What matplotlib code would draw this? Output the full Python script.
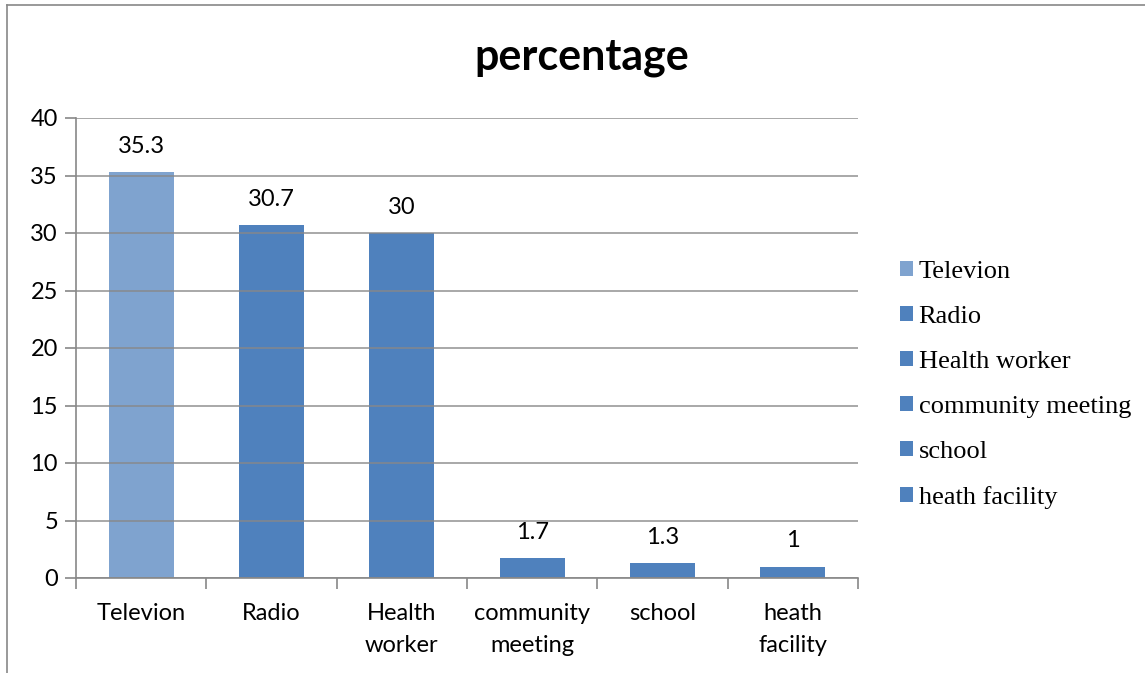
import matplotlib
matplotlib.use("Agg")
import matplotlib.pyplot as plt
from matplotlib.patches import Patch
from matplotlib.lines import Line2D

categories = ["Televion", "Radio", "Health worker", "community meeting", "school", "heath facility"]
tick_labels = ["Televion", "Radio", "Health\nworker", "community\nmeeting", "school", "heath\nfacility"]
values = [35.3, 30.7, 30, 1.7, 1.3, 1]
value_labels = ["35.3", "30.7", "30", "1.7", "1.3", "1"]
colors = ["#7FA3CF", "#4F81BD", "#4F81BD", "#4F81BD", "#4F81BD", "#4F81BD"]

fig = plt.figure(figsize=(11.45, 6.73), dpi=100)
ax = fig.add_axes([76/1145, 1-578/673, (858-76)/1145, (578-118)/673])

x = list(range(len(categories)))
bars = ax.bar(x, values, width=0.5, color=colors, zorder=2)
ax.set_xlim(-0.5, len(categories) - 0.5)
ax.set_ylim(0, 40)
ax.set_yticks(range(0, 41, 5))
ax.tick_params(axis='y', length=8, width=1.2, color="#888888", labelsize=17, pad=5, direction='out')
ax.set_xticks(x)
ax.set_xticklabels(tick_labels, fontsize=17, linespacing=1.65)
ax.tick_params(axis='x', length=0, pad=18)
# category boundary ticks
ax.set_xticks([i - 0.5 for i in range(len(categories) + 1)], minor=True)
ax.tick_params(axis='x', which='minor', length=8, width=1.2, color="#888888")
for lab in ax.get_yticklabels() + ax.get_xticklabels():
    lab.set_fontfamily("Lato")

ax.grid(axis='y', color="#888888", linewidth=1.2, alpha=0.85, zorder=3)
ax.set_axisbelow(False)
for s in ["top", "right"]:
    ax.spines[s].set_visible(False)
for s in ["left", "bottom"]:
    ax.spines[s].set_color("#888888")
    ax.spines[s].set_linewidth(1.2)

for xi, v, t in zip(x, values, value_labels):
    ax.annotate(t, (xi, v), xytext=(0, 11), textcoords="offset points",
                ha="center", va="bottom", fontsize=17, family="Lato")

fig.text(582/1145, 1-57/673, "percentage", ha="center", va="center",
         fontsize=31, fontweight="bold", family="Lato")

handles = [Patch(facecolor=c, edgecolor="none") for c in colors]
leg = fig.legend(handles, categories, loc="upper left", bbox_to_anchor=(889/1145, 1-250/673),
                 frameon=False, prop={"family": "Liberation Serif", "size": 19},
                 handlelength=0.52, handleheight=0.52, handletextpad=0.2, labelspacing=0.87,
                 borderaxespad=0)

# outer border
fig.add_artist(Line2D([7/1145, 7/1145], [0, 1-5/673], transform=fig.transFigure, color="#888888", lw=1.2))
fig.add_artist(Line2D([7/1145, 1], [1-5/673, 1-5/673], transform=fig.transFigure, color="#888888", lw=1.2))

fig.savefig("out.png", dpi=100)
